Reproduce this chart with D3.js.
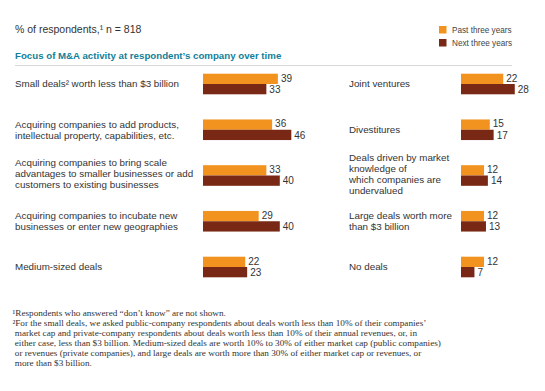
<!DOCTYPE html>
<html>
<head>
<meta charset="utf-8">
<script src="https://cdn.jsdelivr.net/npm/d3@7"></script>
<style>
  html, body { margin: 0; padding: 0; background: #fff; }
  svg { display: block; }
</style>
</head>
<body>
<svg id="chart" width="545" height="391"></svg>
<script>
const seriesNames = ["Past three years", "Next three years"];
const seriesColors = ["#F3931F", "#7A2816"];

const leftCategories = [
  "Small deals² worth less than $3 billion",
  "Acquiring companies to add products,\nintellectual property, capabilities, etc.",
  "Acquiring companies to bring scale\nadvantages to smaller businesses or add\ncustomers to existing businesses",
  "Acquiring companies to incubate new\nbusinesses or enter new geographies",
  "Medium-sized deals"
];
const leftPast = [39, 36, 33, 29, 22];
const leftNext = [33, 46, 40, 40, 23];

const rightCategories = [
  "Joint ventures",
  "Divestitures",
  "Deals driven by market\nknowledge of\nwhich companies are\nundervalued",
  "Large deals worth more\nthan $3 billion",
  "No deals"
];
const rightPast = [22, 15, 12, 12, 12];
const rightNext = [28, 17, 14, 13, 7];

const subtitle = "% of respondents,¹ n = 818";
const title = "Focus of M&A activity at respondent’s company over time";
const footnotes = [
  "¹Respondents who answered “don’t know” are not shown.",
  "²For the small deals, we asked public-company respondents about deals worth less than 10% of their companies’",
  " market cap and private-company respondents about deals worth less than 10% of their annual revenues, or, in",
  " either case, less than $3 billion. Medium-sized deals are worth 10% to 30% of either market cap (public companies)",
  " or revenues (private companies), and large deals are worth more than 30% of either market cap or revenues, or",
  " more than $3 billion."
];

const svg = d3.select("#chart");
const sans = "'Liberation Sans', Arial, Helvetica, sans-serif";
const serif = "'Liberation Serif', 'Times New Roman', serif";

// Header
svg.append("text").attr("x", 15).attr("y", 33)
  .attr("font-family", sans).attr("font-size", 10.5).attr("fill", "#333")
  .text(subtitle);
svg.append("text").attr("x", 15).attr("y", 58.5)
  .attr("font-family", sans).attr("font-size", 9.7).attr("font-weight", "bold").attr("fill", "#12809A")
  .text(title);
svg.append("line").attr("x1", 15).attr("x2", 512).attr("y1", 65.5).attr("y2", 65.5)
  .attr("stroke", "#d6d6d6").attr("stroke-width", 1);

// Legend
const legend = svg.append("g").selectAll("g").data(seriesNames).join("g")
  .attr("transform", (d, i) => `translate(439,${26 + i * 13})`);
legend.append("rect").attr("width", 7.5).attr("height", 7.5).attr("fill", (d, i) => seriesColors[i]);
legend.append("text").attr("x", 13).attr("y", 7.3)
  .attr("font-family", sans).attr("font-size", 8.2).attr("fill", "#444").text(d => d);

// Scales
const x = d3.scaleLinear().domain([0, 50]).range([0, 96]);
const rowY = d3.scalePoint().domain(d3.range(5)).range([84, 267]);
const barH = 10.3;
const lineH = 11;

function panel(cats, past, next, labelX, barX) {
  const g = svg.append("g");
  cats.forEach((c, i) => {
    const lines = c.split("\n");
    const cy = rowY(i);
    const t = g.append("text").attr("font-family", sans).attr("font-size", 9.8).attr("fill", "#333");
    lines.forEach((ln, j) => {
      t.append("tspan").attr("x", labelX)
        .attr("y", cy - (lines.length - 1) * lineH / 2 + 3.3 + j * lineH - (lines.length > 2 ? 1.5 : 0))
        .text(ln);
    });
    [past[i], next[i]].forEach((v, k) => {
      const y0 = cy - barH + k * barH;
      g.append("rect").attr("x", barX).attr("y", y0)
        .attr("width", x(v)).attr("height", barH)
        .attr("fill", seriesColors[k]);
      g.append("text").attr("x", barX + x(v) + 3).attr("y", y0 + barH / 2 + 3.8 - (k === 0 ? 1 : 0))
        .attr("font-family", sans).attr("font-size", 10).attr("fill", "#333")
        .text(v);
    });
  });
}
panel(leftCategories, leftPast, leftNext, 15, 203);
panel(rightCategories, rightPast, rightNext, 349, 461);

// Footnotes
const fn = svg.append("text").attr("font-family", serif).attr("font-size", 9.2).attr("fill", "#333");
footnotes.forEach((f, i) => {
  fn.append("tspan").attr("x", 12.5).attr("y", 316 + i * 10).attr("xml:space", "preserve").text(f);
});
</script>
</body>
</html>
